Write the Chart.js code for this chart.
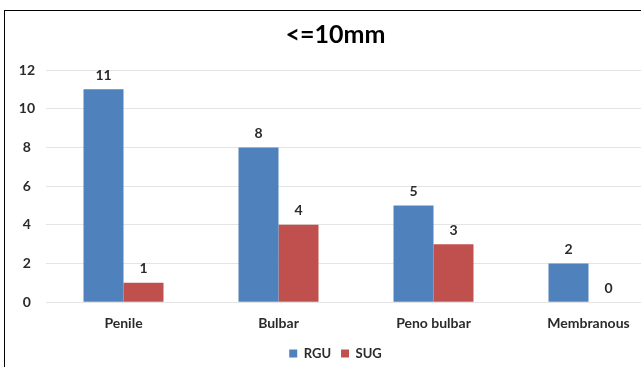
<!DOCTYPE html>
<html>
<head>
<meta charset="utf-8">
<script src="https://cdn.jsdelivr.net/npm/chart.js@4/dist/chart.umd.min.js"></script>
<style>
  html, body { margin: 0; padding: 0; background: #fff; overflow: hidden; }
  #frame {
    position: absolute; left: 4px; top: 10px;
    width: 680px; height: 366px;
    border: 1.5px solid #000; background: #fff;
  }
  #frame canvas { display: block; }
</style>
</head>
<body>
<div id="frame"><canvas id="c" width="680" height="366"></canvas></div>
<script>
const categories = ["Penile", "Bulbar", "Peno bulbar", "Membranous"];
const rguValues = [11, 8, 5, 2];
const sugValues = [1, 4, 3, 0];
const yTicks = [0, 2, 4, 6, 8, 10, 12];

const FONT = "Lato, 'Open Sans', 'Liberation Sans', sans-serif";
const TEXT = "#2b2b2b";

// Writes each bar's value just above its top.
const valueLabels = {
  id: "valueLabels",
  afterDatasetsDraw(chart) {
    const ctx = chart.ctx;
    ctx.save();
    ctx.font = "bold 14px " + FONT;
    ctx.fillStyle = TEXT;
    ctx.textAlign = "center";
    ctx.textBaseline = "middle";
    chart.data.datasets.forEach((ds, i) => {
      const meta = chart.getDatasetMeta(i);
      meta.data.forEach((bar, j) => {
        ctx.fillText(String(ds.data[j]), bar.x, bar.y - 14);
      });
    });
    ctx.restore();
  }
};

new Chart(document.getElementById("c"), {
  type: "bar",
  data: {
    labels: categories,
    datasets: [
      { label: "RGU", data: rguValues, backgroundColor: "#4F81BD", barPercentage: 1, categoryPercentage: 0.516 },
      { label: "SUG", data: sugValues, backgroundColor: "#C0504D", barPercentage: 1, categoryPercentage: 0.516 }
    ]
  },
  options: {
    responsive: false,
    animation: false,
    layout: { padding: { left: 0, right: 19, top: 0, bottom: 7 } },
    plugins: {
      title: {
        display: true,
        text: "<=10mm",
        color: "#000",
        font: { family: FONT, size: 25, weight: "bold" },
        padding: { top: 9, bottom: 20 }
      },
      legend: {
        position: "bottom",
        labels: {
          color: TEXT,
          font: { family: FONT, size: 13, weight: "bold" },
          boxWidth: 8, boxHeight: 8, padding: 10
        }
      },
      tooltip: { enabled: false }
    },
    scales: {
      x: {
        grid: { display: false },
        border: { display: false },
        ticks: { color: TEXT, font: { family: FONT, size: 14, weight: "bold" }, padding: 5 }
      },
      y: {
        min: 0, max: 12,
        afterBuildTicks(axis) { axis.ticks = yTicks.map(v => ({ value: v })); },
        afterFit(axis) { axis.width = 41; },
        grid: { color: "#e4e4e4", drawTicks: false },
        border: { display: false },
        ticks: { color: TEXT, font: { family: FONT, size: 14, weight: "bold" }, padding: 11, crossAlign: "center" }
      }
    }
  },
  plugins: [valueLabels]
});
</script>
</body>
</html>
